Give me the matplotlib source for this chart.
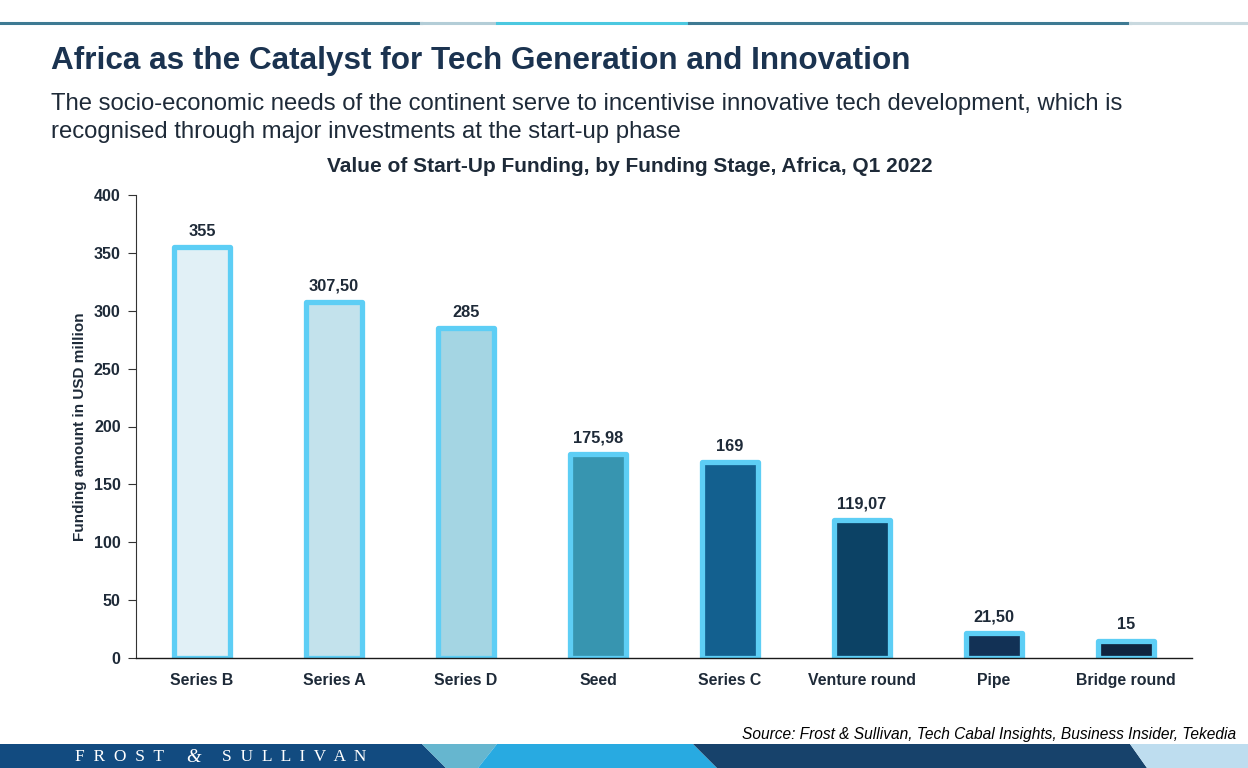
import matplotlib.pyplot as plt
from matplotlib.patches import Polygon

# Data
stages = ["Series B", "Series A", "Series D", "Seed", "Series C",
          "Venture round", "Pipe", "Bridge round"]
funding = [355, 307.50, 285, 175.98, 169, 119.07, 21.50, 15]
value_labels = ["355", "307,50", "285", "175,98", "169", "119,07", "21,50", "15"]
fill_colors = ["#E1F0F6", "#C3E2EC", "#A4D5E3", "#3795B0", "#13608F",
               "#0C4265", "#123155", "#10243F"]
y_ticks = [0, 50, 100, 150, 200, 250, 300, 350, 400]

NAVY = "#1B3350"
TEXT = "#1E2A38"
EDGE = "#5DCEF5"

plt.rcParams["font.family"] = ["Liberation Sans", "DejaVu Sans"]

W, H = 1248, 768
fig = plt.figure(figsize=(W / 100, H / 100), dpi=100)
fig.patch.set_facecolor("white")


def px(x, y):
    """Pixel coordinates (top-left origin) to figure fraction."""
    return x / W, 1 - y / H


# Decorative header line
header = [(0, 421, "#3E7A93"), (421, 497, "#B3CDD7"), (497, 689, "#4CC8E0"),
          (689, 1130, "#3E7A93"), (1130, 1248, "#C9D9DF")]
for x0, x1, c in header:
    fig.add_artist(plt.Line2D([x0 / W, x1 / W], [1 - 23 / H] * 2,
                              color=c, lw=2.2, transform=fig.transFigure))

# Footer band
band = [
    [(0, 744), (422, 744), (446, 768), (0, 768)],
    [(422, 744), (497, 744), (478, 768), (446, 768)],
    [(497, 744), (693, 744), (717, 768), (478, 768)],
    [(693, 744), (1130, 744), (1147, 768), (717, 768)],
    [(1130, 744), (1248, 744), (1248, 768), (1147, 768)],
]
band_colors = ["#124B80", "#66B6CF", "#28AAE1", "#17426B", "#BEDDEF"]
for pts, c in zip(band, band_colors):
    fig.add_artist(Polygon([px(*p) for p in pts], closed=True, facecolor=c,
                           edgecolor="none", transform=fig.transFigure))

fig.text(*px(75, 757), "F  R  O  S  T", color="white", fontsize=12.5,
         family="Liberation Serif", va="center", ha="left")
fig.text(*px(186, 757), "&", color="white", fontsize=13.5, style="italic",
         family="Liberation Serif", va="center", ha="left")
fig.text(*px(222, 757), "S  U  L  L  I  V  A  N", color="white", fontsize=12.5,
         family="Liberation Serif", va="center", ha="left")

# Titles
fig.text(*px(51, 61), "Africa as the Catalyst for Tech Generation and Innovation",
         fontsize=22.7, fontweight="bold", color=NAVY, va="center", ha="left")
fig.text(*px(51, 104), "The socio-economic needs of the continent serve to incentivise "
         "innovative tech development, which is", fontsize=17.2, color=TEXT,
         va="center", ha="left")
fig.text(*px(51, 132), "recognised through major investments at the start-up phase",
         fontsize=17.2, color=TEXT, va="center", ha="left")
fig.text(*px(630, 166), "Value of Start-Up Funding, by Funding Stage, Africa, Q1 2022",
         fontsize=15, fontweight="bold", color=TEXT, va="center", ha="center")

fig.text(*px(1236, 734), "Source: Frost & Sullivan, Tech Cabal Insights, Business Insider, Tekedia",
         fontsize=11.2, style="italic", color="black", va="center", ha="right")

# Chart
ax = fig.add_axes([136 / W, 1 - 658 / H, (1192 - 136) / W, (658 - 195) / H])
x = range(len(stages))
bars = ax.bar(x, funding, width=0.42, color=fill_colors, edgecolor=EDGE,
              linewidth=3.8, joinstyle="round", zorder=2)

for xi, v, lab in zip(x, funding, value_labels):
    ax.annotate(lab, (xi, v), xytext=(0, 6), textcoords="offset points",
                ha="center", va="bottom", fontsize=11.8, fontweight="bold",
                color=TEXT)

ax.set_xlim(-0.5, len(stages) - 0.5)
ax.set_ylim(0, 400)
ax.set_yticks(y_ticks)
ax.set_xticks(list(x))
ax.set_xticklabels(stages)
ax.tick_params(axis="x", length=0, pad=11, labelsize=11.4, labelcolor=TEXT)
ax.tick_params(axis="y", length=6, width=0.8, pad=5, labelsize=11.6,
               labelcolor=TEXT, color="#333333")
for lab in ax.get_xticklabels() + ax.get_yticklabels():
    lab.set_fontweight("bold")

for side in ["top", "right"]:
    ax.spines[side].set_visible(False)
ax.spines["left"].set_color("#333333")
ax.spines["left"].set_linewidth(0.8)
ax.spines["bottom"].set_color("#1a1a1a")
ax.spines["bottom"].set_linewidth(1.0)
ax.spines["bottom"].set_zorder(3)

ax.set_ylabel("Funding amount in USD million", fontsize=11, fontweight="bold",
              color=TEXT, labelpad=5)

fig.savefig("out.png", dpi=100, facecolor="white")
